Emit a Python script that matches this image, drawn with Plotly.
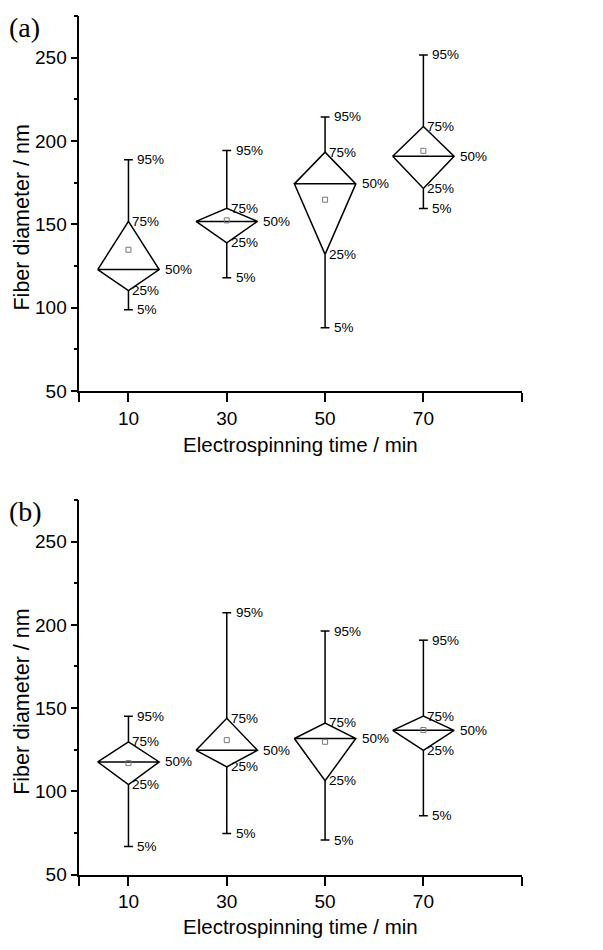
import plotly.graph_objects as go

# ---------------- data ----------------
times = [10, 30, 50, 70]
tick_labels = ["10", "30", "50", "70"]

a_p5 = [98.8, 118.0, 88.0, 159.5]
a_p25 = [110.3, 138.9, 132.0, 171.5]
a_p50 = [122.9, 151.8, 174.3, 190.9]
a_p75 = [151.8, 159.7, 193.3, 208.7]
a_p95 = [188.7, 194.3, 214.4, 251.6]
a_mean = [134.8, 152.4, 164.8, 194.1]

b_p5 = [67.0, 74.8, 70.8, 85.4]
b_p25 = [104.1, 114.8, 106.4, 124.7]
b_p50 = [117.7, 124.7, 131.8, 136.7]
b_p75 = [129.8, 143.9, 141.1, 145.2]
b_p95 = [145.2, 207.2, 196.3, 190.8]
b_mean = [117.0, 130.8, 129.8, 136.9]

x_title = "Electrospinning time / min"
y_title = "Fiber diameter / nm"

# ---------------- style ----------------
HALF_W = 6.25     # half width of diamond in x units
CAP = 0.9         # half width of whisker caps
LW = 1.5
FONT = "Liberation Sans, Arial, sans-serif"
SERIF = "Liberation Serif, Times New Roman, serif"

# page body has an 8px default margin; lay out relative to it
OFF = 8
W, H = 603 - OFF, 950 - OFF

fig = go.Figure()
annotations = []

panels = [
    ("x", "y", a_p5, a_p25, a_p50, a_p75, a_p95, a_mean),
    ("x2", "y2", b_p5, b_p25, b_p50, b_p75, b_p95, b_mean),
]

for xa, ya, p5, p25, p50, p75, p95, mean in panels:
    for i, t in enumerate(times):
        # diamond
        fig.add_trace(go.Scatter(
            x=[t - HALF_W, t, t + HALF_W, t, t - HALF_W, t + HALF_W],
            y=[p50[i], p75[i], p50[i], p25[i], p50[i], p50[i]],
            mode="lines", line=dict(color="black", width=LW),
            xaxis=xa, yaxis=ya, showlegend=False, hoverinfo="skip"))
        # whiskers with caps
        fig.add_trace(go.Scatter(
            x=[t, t, None, t - CAP, t + CAP, None, t, t, None, t - CAP, t + CAP],
            y=[p75[i], p95[i], None, p95[i], p95[i], None, p25[i], p5[i], None, p5[i], p5[i]],
            mode="lines", line=dict(color="black", width=LW),
            xaxis=xa, yaxis=ya, showlegend=False, hoverinfo="skip"))
        # labels
        for val, txt, xpos, shift in [
            (p95[i], "95%", t, 7),
            (p75[i], "75%", t, 2),
            (p50[i], "50%", t + HALF_W, 4),
            (p25[i], "25%", t, 2),
            (p5[i], "5%", t, 7),
        ]:
            annotations.append(dict(
                x=xpos, y=val, xref=xa, yref=ya, text=txt,
                showarrow=False, xanchor="left", yanchor="middle",
                xshift=shift, font=dict(family=FONT, size=13.5, color="black")))
    # mean markers
    fig.add_trace(go.Scatter(
        x=times, y=mean, mode="markers",
        marker=dict(symbol="square-open", size=5, color="#777777", line=dict(width=1)),
        xaxis=xa, yaxis=ya, showlegend=False, hoverinfo="skip"))

def px_x(px):
    return (px - OFF) / W

def px_y(py):
    return 1 - (py - OFF) / H

# panel labels
for txt, py in [("(a)", 28), ("(b)", 517)]:
    annotations.append(dict(x=px_x(7), y=px_y(py), xref="paper", yref="paper", text=txt,
                            showarrow=False, xanchor="left", yanchor="middle",
                            font=dict(family=SERIF, size=28, color="black")))

# axis titles (placed as in the reference)
for py in [450, 937]:
    annotations.append(dict(x=px_x(300), y=px_y(py), xref="paper", yref="paper", text=x_title,
                            showarrow=False, xanchor="center", yanchor="middle",
                            font=dict(family=FONT, size=20.5, color="black")))
for py in [220, 710]:
    annotations.append(dict(x=px_x(22), y=px_y(py), xref="paper", yref="paper", text=y_title,
                            showarrow=False, xanchor="center", yanchor="middle", textangle=-90,
                            font=dict(family=FONT, size=21.5, color="black")))

xdom = [px_x(79.3), px_x(521.7)]
ya_dom = [px_y(395.7), px_y(16)]
yb_dom = [px_y(885), px_y(505.7)]

def xaxis_cfg(anchor):
    return dict(
        domain=xdom, anchor=anchor, range=[0, 90],
        tickvals=[0] + times + [90], ticktext=[""] + tick_labels + [""],
        ticks="outside", ticklen=9, tickwidth=LW, tickcolor="black",
        showline=True, linecolor="black", linewidth=LW,
        showgrid=False, zeroline=False,
        tickfont=dict(family=FONT, size=19, color="black"),
    )

def yaxis_cfg(anchor, dom):
    return dict(
        domain=dom, anchor=anchor, range=[50, 275],
        tick0=50, dtick=50,
        ticks="outside", ticklen=7, tickwidth=LW, tickcolor="black",
        minor=dict(dtick=25, tick0=50, ticks="outside", ticklen=4, tickwidth=LW, tickcolor="black"),
        showline=True, linecolor="black", linewidth=LW,
        showgrid=False, zeroline=False,
        tickfont=dict(family=FONT, size=19, color="black"),
    )

fig.update_layout(
    width=W, height=H, autosize=False,
    margin=dict(l=0, r=0, t=0, b=0),
    paper_bgcolor="white", plot_bgcolor="white",
    xaxis=xaxis_cfg("y"),
    yaxis=yaxis_cfg("x", ya_dom),
    xaxis2=xaxis_cfg("y2"),
    yaxis2=yaxis_cfg("x2", yb_dom),
    annotations=annotations,
    showlegend=False,
)

fig.write_html("out.html")
